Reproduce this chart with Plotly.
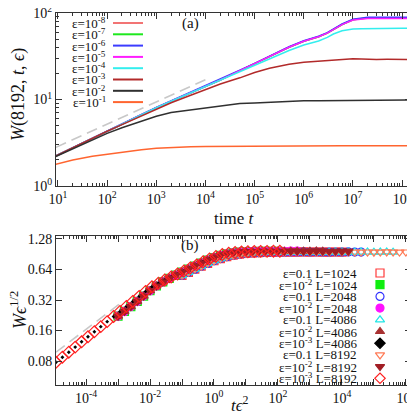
import plotly.graph_objects as go

# ---------- panel (a): W(8192, t, eps) ----------
t = [9, 20, 50, 100, 200, 500, 1e3, 2e3, 5e3, 1e4, 2e4, 5e4, 1e5, 2e5, 5e5,
     1e6, 2e6, 3e6, 4e6, 6e6, 1e7, 1.5e7, 2e7, 3e7, 5e7, 1e8, 1.5e8]

W_e8 = [2.22, 2.77, 3.57, 4.32, 5.21, 6.67, 8.03, 9.55, 11.97, 14.2, 16.8, 21.6, 25.9, 31.2, 40.2,
        47.1, 53.1, 58.6, 64.9, 73.6, 83.4, 86.8, 87.6, 87.9, 87.9, 88.0, 87.9]
W_e7 = [2.22, 2.77, 3.57, 4.32, 5.21, 6.67, 8.03, 9.55, 11.97, 14.2, 16.8, 21.6, 25.9, 31.2, 40.2,
        47.1, 53.1, 58.6, 64.9, 73.6, 83.6, 87.0, 87.9, 88.3, 88.4, 88.3, 88.4]
W_e6 = [2.23, 2.79, 3.60, 4.36, 5.26, 6.73, 8.10, 9.64, 12.08, 14.35, 17.0, 21.8, 26.2, 31.6, 40.7,
        47.7, 53.8, 59.4, 65.8, 74.6, 84.5, 88.0, 89.2, 89.6, 89.7, 89.7, 89.6]
W_e5 = [2.22, 2.77, 3.57, 4.32, 5.21, 6.67, 8.03, 9.55, 11.97, 14.2, 16.8, 21.6, 25.9, 31.2, 40.2,
        47.1, 53.1, 58.6, 64.9, 73.4, 83.0, 85.6, 86.3, 86.5, 86.5, 86.6, 86.5]
W_e4 = [2.22, 2.77, 3.57, 4.32, 5.21, 6.67, 8.03, 9.55, 11.95, 14.1, 16.6, 21.0, 24.5, 29.2, 36.8,
        42.7, 47.5, 52.2, 57.1, 62.2, 65.2, 65.8, 66.1, 66.5, 66.5, 66.6, 66.5]
W_e3 = [2.22, 2.77, 3.55, 4.29, 5.12, 6.49, 7.76, 9.17, 11.2, 13.0, 15.1, 17.8, 20.5, 23.0, 25.5,
        27.0, 27.8, 28.3, 28.5, 28.9, 29.5, 29.4, 29.0, 29.0, 29.1, 29.0, 29.0]
W_e2 = [2.19, 2.68, 3.39, 4.06, 4.72, 5.61, 6.40, 7.09, 7.62, 8.05, 8.43, 8.98, 9.14, 9.33, 9.51,
        9.66, 9.70, 9.72, 9.74, 9.75, 9.77, 9.79, 9.80, 9.82, 9.84, 9.86, 9.86]
W_e1 = [1.78, 2.00, 2.21, 2.34, 2.48, 2.63, 2.74, 2.81, 2.85, 2.87, 2.88, 2.89, 2.90, 2.90, 2.90,
        2.90, 2.90, 2.90, 2.91, 2.91, 2.91, 2.91, 2.91, 2.91, 2.91, 2.91, 2.91]

guide_a_t = [9.1, 1.17e4]
guide_a_W = [2.8, 17.6]

top_labels = ["ε=10<sup>-8</sup>", "ε=10<sup>-7</sup>", "ε=10<sup>-6</sup>", "ε=10<sup>-5</sup>",
              "ε=10<sup>-4</sup>", "ε=10<sup>-3</sup>", "ε=10<sup>-2</sup>", "ε=10<sup>-1</sup>"]
top_series = [W_e8, W_e7, W_e6, W_e5, W_e4, W_e3, W_e2, W_e1]
top_colors = ["#f27474", "#1ee81e", "#3c3cff", "#ff1cff", "#33eeee", "#b22a2a", "#303030", "#ff6530"]

# ---------- panel (b): W eps^1/2 vs t eps^2 ----------
logx_e3 = [-4.94, -4.74, -4.54, -4.34, -4.14, -3.94, -3.74, -3.54, -3.34, -3.14, -2.94, -2.74,
           -2.54, -2.34, -2.14, -1.94, -1.74, -1.54, -1.34, -1.14, -0.94, -0.74, -0.54, -0.34,
           -0.14, 0.06, 0.26, 0.46, 0.66, 0.86, 1.06, 1.26, 1.46, 1.66, 1.86, 2.06]
y_e3 = [0.078, 0.0875, 0.098, 0.110, 0.124, 0.139, 0.156, 0.175, 0.196, 0.220, 0.247, 0.277,
        0.310, 0.348, 0.389, 0.432, 0.468, 0.504, 0.540, 0.578, 0.619, 0.664, 0.711, 0.762,
        0.813, 0.861, 0.898, 0.925, 0.940, 0.950, 0.957, 0.962, 0.965, 0.966, 0.967, 0.967]

logx_e2 = [-3.0, -2.8, -2.6, -2.4, -2.2, -2.0, -1.8, -1.6, -1.4, -1.2, -1.0, -0.8, -0.6,
           -0.4, -0.2, 0.0, 0.2, 0.4, 0.6, 0.8, 1.0, 1.2, 1.4, 1.6, 1.8, 2.0, 2.2, 2.4,
           2.6, 2.8, 3.0, 3.2, 3.4, 3.6, 3.8, 4.0, 4.2]
y_e2 = [0.222, 0.247, 0.276, 0.310, 0.350, 0.395, 0.440, 0.482, 0.522, 0.562, 0.602, 0.645, 0.692,
        0.740, 0.790, 0.838, 0.880, 0.912, 0.934, 0.948, 0.956, 0.961, 0.964, 0.966, 0.967, 0.968,
        0.968, 0.969, 0.970, 0.968, 0.969, 0.971, 0.969, 0.968, 0.970, 0.969, 0.969]

logx_e1 = [-1.0, -0.8, -0.6, -0.4, -0.2, 0.0, 0.2, 0.4, 0.6, 0.8, 1.0, 1.2, 1.4, 1.6, 1.8,
           2.0, 2.2, 2.4, 2.6, 2.8, 3.0, 3.2, 3.4, 3.6, 3.8, 4.0, 4.2, 4.4, 4.6, 4.8, 5.0,
           5.2, 5.4, 5.6, 5.8, 6.0, 6.2]
y_e1 = [0.560, 0.600, 0.645, 0.690, 0.735, 0.780, 0.820, 0.855, 0.884, 0.905, 0.920, 0.930, 0.937,
        0.942, 0.945, 0.947, 0.948, 0.949, 0.950, 0.952, 0.949, 0.951, 0.950, 0.948, 0.951, 0.950,
        0.952, 0.949, 0.950, 0.951, 0.948, 0.950, 0.952, 0.949, 0.950, 0.951, 0.950]

guide_b_x = [10 ** -4.94, 10 ** -2.85]
guide_b_y = [0.098, 0.31]

# label, curve, number of points, symbol, colour, marker size in plot
bottom_series = [
    ("ε=0.1 L=1024", "e1", 26, "square-open", "#ff3a3a", 8),
    ("ε=10<sup>-2</sup> L=1024", "e2", 26, "square", "#10ee10", 8),
    ("ε=0.1 L=2048", "e1", 29, "circle-open", "#3434ff", 8),
    ("ε=10<sup>-2</sup> L=2048", "e2", 29, "circle", "#ff10ff", 8),
    ("ε=0.1 L=4086", "e1", 34, "triangle-up-open", "#22e6e6", 8),
    ("ε=10<sup>-2</sup> L=4086", "e2", 33, "triangle-up", "#a83030", 8),
    ("ε=10<sup>-3</sup> L=4086", "e3", 33, "diamond", "#000000", 3),
    ("ε=0.1 L=8192", "e1", 37, "triangle-down-open", "#ff7a55", 8),
    ("ε=10<sup>-2</sup> L=8192", "e2", 37, "triangle-down", "#a11d24", 8),
    ("ε=10<sup>-3</sup> L=8192", "e3", 36, "diamond-open", "#ff2020", 9),
]
curves = {"e1": (logx_e1, y_e1), "e2": (logx_e2, y_e2), "e3": (logx_e3, y_e3)}

SERIF = "Liberation Serif, DejaVu Serif, serif"
OFF = 8  # page body margin: the figure starts 8 px in from the window corner
FW, FH = 415 - OFF, 414 - OFF


def px(x):
    return (x - OFF) / FW


def py(y):
    return 1 - (y - OFF) / FH


fig = go.Figure()

fig.add_trace(go.Scatter(x=guide_a_t, y=guide_a_W, mode="lines", xaxis="x", yaxis="y",
                         line=dict(color="#c8c8c8", width=1.6, dash="11px,6px"), showlegend=False))
for W, c in zip(top_series, top_colors):
    fig.add_trace(go.Scatter(x=t, y=W, mode="lines", xaxis="x", yaxis="y",
                             line=dict(color=c, width=1.5), showlegend=False))

fig.add_trace(go.Scatter(x=guide_b_x, y=guide_b_y, mode="lines", xaxis="x2", yaxis="y2",
                         line=dict(color="#c8c8c8", width=1.6, dash="11px,6px"), showlegend=False))
for label, key, n, sym, c, size in bottom_series:
    lx, yy = curves[key]
    lw = 0 if size < 5 else 1.2
    fig.add_trace(go.Scatter(x=[10 ** v for v in lx[:n]], y=yy[:n], mode="markers",
                             xaxis="x2", yaxis="y2", showlegend=False,
                             marker=dict(symbol=sym, size=size, color=c, line=dict(color=c, width=lw))))

# hand-made legends (text first, key on the right, as in the original)
for i, c in enumerate(top_colors):
    yy = 23 + 11.3 * i
    fig.add_shape(type="line", xref="paper", yref="paper", x0=px(113), x1=px(143), y0=py(yy), y1=py(yy),
                  line=dict(color=c, width=2))
    fig.add_annotation(x=px(108), y=py(yy), xref="paper", yref="paper", text=top_labels[i], showarrow=False,
                       xanchor="right", yanchor="middle", font=dict(family=SERIF, size=13, color="#111"))
for i, (label, key, n, sym, c, size) in enumerate(bottom_series):
    yy = 273 + 11.7 * i
    fig.add_trace(go.Scatter(x=[px(380)], y=[py(yy)], mode="markers", xaxis="x3", yaxis="y3",
                             marker=dict(symbol=sym, size=8, color=c, line=dict(color=c, width=1.2)),
                             showlegend=False, hoverinfo="skip"))
    fig.add_annotation(x=px(359), y=py(yy), xref="paper", yref="paper", text=label, showarrow=False,
                       xanchor="right", yanchor="middle", font=dict(family=SERIF, size=13, color="#111"))

texts = [
    ("(a)", 190, 23, 0, 15),
    ("(b)", 190, 245, 0, 15),
    ("<i>W</i>(8192, <i>t</i>, <i>ϵ</i>)", 18, 95, -90, 18),
    ("<i>Wϵ</i><sup>1/2</sup>", 18, 310, -90, 18),
    ("time <i>t</i>", 234, 218, 0, 17),
    ("<i>tϵ</i><sup>2</sup>", 240, 404, 0, 17),
]
for txt, x, y, ang, fs in texts:
    fig.add_annotation(x=px(x), y=py(y), xref="paper", yref="paper", text=txt, showarrow=False, textangle=ang,
                       xanchor="center", yanchor="middle", font=dict(family=SERIF, size=fs, color="#111"))

axis_common = dict(type="log", showline=True, linecolor="#333", linewidth=1, mirror="allticks",
                   ticks="inside", ticklen=6, tickcolor="#333", showgrid=False, zeroline=False,
                   automargin=False, ticklabeloverflow="allow",
                   tickfont=dict(family=SERIF, size=14, color="#111"))
minor_common = dict(tickmode="array", ticks="inside", ticklen=3, tickcolor="#333", showgrid=False)

dec_a = list(range(1, 9))
dec_b = list(range(-4, 7))
minor_a = [m * 10 ** d for d in range(0, 9) for m in range(2, 10)]
minor_ay = [m * 10 ** d for d in range(0, 2) for m in range(2, 10)]
minor_b = [m * 10 ** d for d in range(-5, 7) for m in range(2, 10)]

fig.update_layout(
    width=FW, height=FH, margin=dict(l=0, r=0, t=0, b=0, autoexpand=False),
    paper_bgcolor="white", plot_bgcolor="rgba(0,0,0,0)", showlegend=False,
    xaxis=dict(axis_common, domain=[px(56), px(411)], anchor="y", range=[0.96, 8.18],
               tickmode="array", tickvals=[10 ** d for d in dec_a],
               ticktext=["10<sup>%d</sup>" % d for d in dec_a],
               minor=dict(minor_common, tickvals=minor_a)),
    yaxis=dict(axis_common, domain=[py(186), py(13)], anchor="x", range=[0, 2],
               tickmode="array", tickvals=[1, 10, 100],
               ticktext=["10<sup>0</sup>", "10<sup>1</sup>", "10<sup>2</sup>"],
               minor=dict(minor_common, tickvals=minor_ay)),
    xaxis2=dict(axis_common, domain=[px(56), px(411)], anchor="y2", range=[-4.94, 6.16],
                tickmode="array", tickvals=[10 ** d for d in dec_b],
                ticktext=["10<sup>%d</sup>" % d if d % 2 == 0 else "" for d in dec_b],
                minor=dict(minor_common, tickvals=minor_b)),
    yaxis2=dict(axis_common, domain=[py(385), py(236)], anchor="x2", range=[-1.332, 0.136],
                tickmode="array", tickvals=[0.08, 0.16, 0.32, 0.64, 1.28],
                ticktext=["0.08", "0.16", "0.32", "0.64", "1.28"]),
    xaxis3=dict(domain=[0, 1], range=[0, 1], visible=False, anchor="y3", fixedrange=True, automargin=False),
    yaxis3=dict(domain=[0, 1], range=[0, 1], visible=False, anchor="x3", fixedrange=True, automargin=False),
)

fig.write_html("out.html")
